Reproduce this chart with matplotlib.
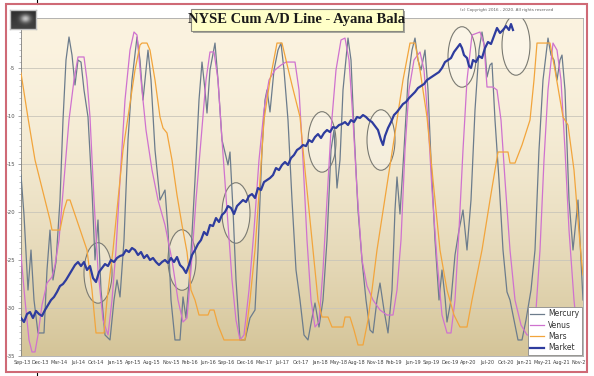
import numpy as np
import matplotlib
matplotlib.use("Agg")
import matplotlib.pyplot as plt
from matplotlib.patches import Ellipse, Rectangle
from matplotlib.lines import Line2D
from matplotlib.ticker import AutoMinorLocator

# ---------------- data (x = sample index along the category axis) ----------------
tick_labels = ["Sep-13", "Dec-13", "Mar-14", "Jul-14", "Oct-14", "Jan-15", "Apr-15", "Aug-15",
               "Nov-15", "Feb-16", "Jun-16", "Sep-16", "Dec-16", "Mar-17", "Jul-17", "Oct-17",
               "Jan-18", "May-18", "Aug-18", "Nov-18", "Feb-19", "Jun-19", "Sep-19", "Dec-19",
               "Apr-20", "Jul-20", "Oct-20", "Jan-21", "May-21", "Aug-21", "Nov-21"]

mercury_x = [0,3,7,10,13,17,23,26,29,32,35,39,42,45,48,51,54,57,60,63,67,71,74,77,80,84,89,93,96,99,
             103,107,111,116,119,122,125,127,130,134,139,144,147,150,154,159,162,165,169,174,178,181,184,186,189,194,197,201,207,209,
             212,215,219,224,229,234,237,241,244,246,249,253,257,260,263,267,271,275,279,283,287,291,294,298,302,306,310,313,316,319,
             322,327,330,333,337,341,345,349,352,356,359,363,367,371,374,376,379,383,387,391,394,397,400,404,407,410,414,418,421,424,
             426,430,434,438,442,446,450,454,458,461,464,466,469,471,474,478,482,486,489,493,497,501,505,510,514,518,522,527,530,533,
             536,539,541,544,548,552,555,557,559,562]
mercury_y = [-16.15,-20.31,-28.13,-23.96,-29.17,-32.6,-32.6,-26.04,-21.88,-27.08,
             -25.21,-18.75,-10.42,-4.17,-1.77,-3.65,-6.77,-4.17,-4.38,-7.29,
             -10.10,-17.71,-25.0,-20.83,-28.13,-32.81,-33.33,-29.17,-27.08,-28.85,
             -22.92,-12.5,-6.25,-1.77,-4.17,-8.33,-5.21,-3.13,-6.25,-13.54,
             -18.75,-17.71,-21.88,-29.17,-33.33,-33.33,-28.85,-31.04,-26.04,-16.67,
             -8.33,-4.38,-7.29,-9.69,-5.21,-2.40,-6.25,-12.5,-15.10,-13.75,
             -19.79,-27.08,-33.33,-33.33,-31.04,-30.21,-23.96,-13.54,-8.33,-7.29,
             -9.58,-5.21,-3.13,-2.40,-5.21,-10.42,-18.75,-26.04,-29.17,-32.81,
             -33.33,-31.04,-29.48,-31.98,-29.17,-22.92,-13.54,-11.46,-17.5,-14.58,
             -7.29,-1.88,-4.17,-11.46,-19.79,-25.0,-29.17,-32.29,-32.6,-29.17,
             -27.4,-30.21,-32.6,-28.13,-19.79,-16.35,-20.21,-13.54,-6.25,-3.13,
             -1.88,-4.17,-5.21,-3.13,-7.29,-14.58,-22.92,-29.17,-26.04,-28.85,
             -31.46,-29.17,-24.48,-21.88,-19.79,-23.96,-18.75,-9.38,-3.13,-1.25,
             -3.13,-5.94,-4.69,-4.48,-10.42,-16.67,-23.96,-28.33,-29.17,-31.25,
             -33.33,-33.33,-31.25,-28.13,-23.96,-13.54,-6.25,-1.88,-3.65,-4.17,
             -6.25,-4.17,-3.65,-7.29,-18.75,-23.96,-20.83,-18.75,-22.92,-29.17]

venus_x = [0,4,8,11,14,17,21,26,31,34,38,43,48,53,57,63,66,69,73,77,
           82,87,91,95,99,104,109,113,116,120,125,131,137,144,151,157,162,166,170,175,
           180,185,189,193,197,201,206,211,215,219,223,228,233,238,243,248,254,260,265,274,
           278,282,286,290,294,298,302,306,310,315,320,324,328,332,336,341,346,352,359,366,
           372,376,380,384,388,393,399,403,407,411,416,421,426,430,434,438,442,446,451,459,
           463,466,472,476,480,484,489,494,500,506,511,515,519,523,527,532,536,540,544,548,
           553,557,560,562]
venus_y = [-24.48,-29.17,-33.33,-34.58,-34.58,-32.81,-29.69,-27.4,-26.77,-25.52,
           -22.92,-16.67,-10.42,-6.25,-3.85,-3.85,-6.25,-10.10,-18.75,-26.04,
           -31.25,-32.81,-29.17,-23.96,-16.67,-8.33,-3.13,-1.25,-1.56,-6.25,
           -11.46,-15.63,-18.75,-21.35,-25.0,-29.17,-31.46,-31.04,-26.04,-18.75,
           -12.5,-6.25,-3.33,-3.33,-6.25,-12.5,-19.79,-27.08,-31.25,-33.33,
           -32.81,-28.13,-21.88,-14.58,-9.38,-6.25,-5.21,-4.69,-4.38,-4.38,
           -7.29,-14.58,-22.92,-29.17,-31.98,-31.46,-26.04,-18.75,-11.46,-5.21,
           -2.08,-1.88,-4.17,-10.42,-17.71,-25.0,-27.71,-29.17,-30.21,-30.73,
           -30.73,-28.13,-22.92,-13.54,-7.29,-4.17,-3.33,-5.21,-10.42,-17.71,
           -25.0,-30.73,-32.6,-32.6,-29.17,-21.88,-13.54,-6.25,-1.56,-1.25,
           -2.5,-6.98,-6.98,-7.29,-10.42,-16.67,-23.96,-29.17,-31.77,-32.81,
           -32.81,-30.21,-23.96,-14.58,-7.29,-2.40,-3.13,-6.25,-13.54,-21.88,
           -29.17,-33.33,-34.58,-33.85]

mars_x = [0,7,14,19,24,29,31,39,43,46,49,66,71,75,83,86,92,97,102,107,
          114,119,121,126,129,134,139,142,146,151,156,161,166,170,174,178,187,189,193,197,
          203,224,229,234,239,243,249,256,261,265,271,279,284,289,293,297,301,307,311,322,
          324,329,333,337,342,347,351,356,366,376,382,389,394,399,406,412,419,426,433,439,
          446,451,456,461,469,477,487,489,494,501,509,513,516,529,534,542,547,553,557,560,
          562]
mars_y = [-5.52,-10.2,-14.58,-16.67,-18.75,-20.83,-21.88,-21.88,-19.79,-18.75,
          -18.75,-23.96,-28.13,-32.6,-32.6,-29.17,-23.96,-18.75,-13.54,-10.10,
          -5.21,-2.6,-2.40,-2.40,-3.13,-6.25,-10.10,-11.25,-11.77,-14.58,
          -18.23,-21.35,-24.17,-28.13,-29.17,-30.73,-30.73,-30.21,-30.21,-31.77,
          -33.33,-33.33,-29.17,-23.96,-16.67,-10.42,-6.25,-2.40,-2.40,-4.17,
          -6.77,-10.10,-15.63,-20.83,-25.0,-29.17,-30.94,-30.94,-31.98,-31.98,
          -30.94,-30.94,-32.29,-33.85,-33.85,-31.25,-28.13,-23.96,-17.19,-10.42,
          -6.25,-2.40,-2.40,-5.21,-10.10,-16.67,-23.96,-28.13,-30.73,-31.98,
          -31.98,-29.17,-26.56,-23.96,-18.75,-13.75,-13.75,-14.90,-14.90,-13.02,
          -10.42,-6.25,-2.40,-2.40,-5.21,-10.10,-10.94,-15.63,-20.83,-24.48,
          -26.56]

market_x = list(range(0, 361, 3)) + [362, 364] + list(range(367, 440, 3)) + \
           [441,443,446,448,450,452,455,458,461,464,467,470,473,476,479,482,485,488,490,492]
market_y = [-31.04,-31.46,-30.63,-30.42,-31.04,-30.31,-30.63,-30.83,-30.21,-29.69,
            -29.17,-28.85,-28.33,-27.71,-27.5,-27.08,-26.56,-26.04,-25.52,-25.21,
            -25.63,-25.21,-26.04,-25.63,-26.88,-27.29,-26.25,-25.83,-25.42,-25.63,
            -25.0,-25.21,-24.79,-24.58,-24.48,-23.96,-24.17,-23.75,-23.96,-24.48,
            -24.17,-24.79,-24.48,-25.0,-24.79,-25.21,-25.52,-25.21,-25.0,-25.31,
            -24.79,-25.21,-24.69,-25.52,-25.83,-26.35,-25.52,-24.48,-23.96,-23.33,
            -22.92,-22.08,-22.4,-21.35,-21.46,-20.63,-21.04,-20.31,-20.0,-19.38,
            -19.58,-20.21,-19.38,-19.06,-18.75,-18.96,-18.33,-18.13,-18.54,-17.5,
            -17.71,-16.88,-16.67,-16.46,-16.15,-15.42,-15.63,-15.10,-14.79,-15.10,
            -14.38,-14.06,-13.54,-13.33,-13.02,-13.13,-12.5,-12.71,-12.19,-11.88,
            -12.29,-11.77,-11.46,-11.67,-11.15,-11.25,-10.94,-10.83,-10.63,-10.94,
            -10.42,-10.63,-10.10,-10.2,-9.90,-10.10,-10.42,-10.63,-11.04,-11.46,
            -12.5,
            -13.02,-12.08,
            -11.25,-10.63,-9.90,-9.58,-9.17,-8.75,-8.54,-8.13,-7.81,-7.5,
            -7.08,-6.88,-6.67,-6.25,-6.04,-5.83,-5.63,-5.42,-5.0,-4.38,
            -4.17,-3.96,-3.33,-2.92,-2.5,
            -2.92,-3.65,-3.96,-4.79,-5.0,-4.17,-4.38,-3.75,-3.96,-2.92,
            -2.29,-2.5,-1.67,-0.83,-1.35,-1.04,-0.63,-1.04,-0.42,-1.04]

# highlighted turning zones (centre x, centre y)
circle_x = [77, 161, 215, 301, 360, 441, 495]
circle_y = [-26.35, -25.0, -20.1, -12.7, -12.5, -3.85, -2.6]

# ---------------- figure ----------------
W, H = 594, 376
fig = plt.figure(figsize=(W / 100, H / 100), dpi=100)
fig.patch.set_facecolor("white")

ax = fig.add_axes([21 / W, 20 / H, 562 / W, 338 / H])
XMAX, YMIN, YMAX = 562, -35, 0.21

# gradient plot-area background
g = np.linspace(0, 1, 256)[:, None] ** 1.7
top = np.array([251, 243, 224]) / 255
bot = np.array([212, 196, 152]) / 255
img = top[None, None, :] * (1 - g[:, :, None]) + bot[None, None, :] * g[:, :, None]
ax.imshow(img, extent=[0, XMAX, YMIN, YMAX], aspect="auto", origin="upper", zorder=0)

ax.yaxis.grid(True, color="#C9C5BA", lw=0.6, zorder=1)

for cx, cy in zip(circle_x, circle_y):
    ax.add_patch(Ellipse((cx, cy), 28, 6.3, facecolor=(1, 1, 1, 0.28),
                         edgecolor="#7A7A72", lw=0.8, zorder=2))

ax.plot(mercury_x, mercury_y, color="#6C7C8C", lw=0.9, zorder=3, label="Mercury")
ax.plot(venus_x, venus_y, color="#CF72CF", lw=0.9, zorder=3, label="Venus")
ax.plot(mars_x, mars_y, color="#F2A53C", lw=0.9, zorder=3, label="Mars")
ax.plot(market_x, market_y, color="#2E3C9E", lw=1.6, zorder=4, label="Market")

ax.set_xlim(0, XMAX)
ax.set_ylim(YMIN, YMAX)

ticks = [1 + 18.6 * i for i in range(len(tick_labels))]
ax.set_xticks(ticks)
ax.set_xticklabels(tick_labels, fontsize=3.5, color="#404040")
ax.tick_params(axis="x", length=0, pad=3)

ax.set_yticks([-35, -30, -25, -20, -15, -10, -5])
ax.set_yticklabels(["-35", "-30", "-25", "-20", "-15", "-10", "-5"], fontsize=3.8, color="#505050")
ax.yaxis.set_minor_locator(AutoMinorLocator(8))
ax.tick_params(axis="y", which="major", length=2.5, width=0.5, color="#808080", pad=1.5)
ax.tick_params(axis="y", which="minor", length=1.3, width=0.4, color="#909090")

for s in ax.spines.values():
    s.set_color("#A8A8A8")
    s.set_linewidth(0.6)
ax.spines["left"].set_color("#808080")

leg = ax.legend(loc="lower right", fontsize=5.5, frameon=True, fancybox=False,
                edgecolor="#8A8A8A", framealpha=1, handlelength=1.8, borderpad=0.35,
                labelspacing=0.3, handletextpad=0.5, borderaxespad=0.15)
leg.get_frame().set_linewidth(0.6)
for t in leg.get_texts():
    t.set_color("#333333")

# ---------------- decorations ----------------
# red outer frame
fig.patches.append(Rectangle((6 / W, 4 / H), 581 / W, 368 / H, transform=fig.transFigure,
                             fill=False, edgecolor="#CF6A76", lw=1.5, zorder=10))
fig.lines.append(Line2D([37 / W, 37 / W], [1, 1 - 4 / H], transform=fig.transFigure,
                        color="black", lw=0.8))
fig.lines.append(Line2D([37 / W, 37 / W], [0, 4 / H], transform=fig.transFigure,
                        color="black", lw=0.8))

# title box with shadow
bx, by, bw, bh = 191 / W, 1 - 31 / H, 212 / W, 22 / H
fig.patches.append(Rectangle((bx + 2 / W, by - 2 / H), bw, bh, transform=fig.transFigure,
                             facecolor="#A8A8A0", edgecolor="none", zorder=8))
fig.patches.append(Rectangle((bx, by), bw, bh, transform=fig.transFigure,
                             facecolor="#FFFFC8", edgecolor="#8A8A80", lw=0.8, zorder=9))
fig.text(bx + bw / 2, by + bh / 2, "NYSE Cum A/D Line - Ayana Bala", ha="center", va="center",
         fontsize=10.5, fontweight="bold", family="Liberation Serif", color="#1A1A1A", zorder=11)

fig.text(507 / W, 1 - 10 / H, "(c) Copyright 2016 - 2020. All rights reserved",
         ha="center", va="center", fontsize=3, color="#606060")

# small photo icon
iax = fig.add_axes([10 / W, 1 - 29 / H, 26 / W, 19 / H])
yy, xx = np.mgrid[0:19, 0:26]
icon = 0.18 + 0.55 * np.exp(-(((xx - 15) / 5.0) ** 2 + ((yy - 8) / 4.0) ** 2)) + 0.08 * (yy / 19)
iax.imshow(icon, cmap="gray", vmin=0, vmax=1, aspect="auto")
iax.set_xticks([]); iax.set_yticks([])
for s in iax.spines.values():
    s.set_color("#C0C0C0"); s.set_linewidth(1.0)

fig.savefig("out.png", dpi=100)
